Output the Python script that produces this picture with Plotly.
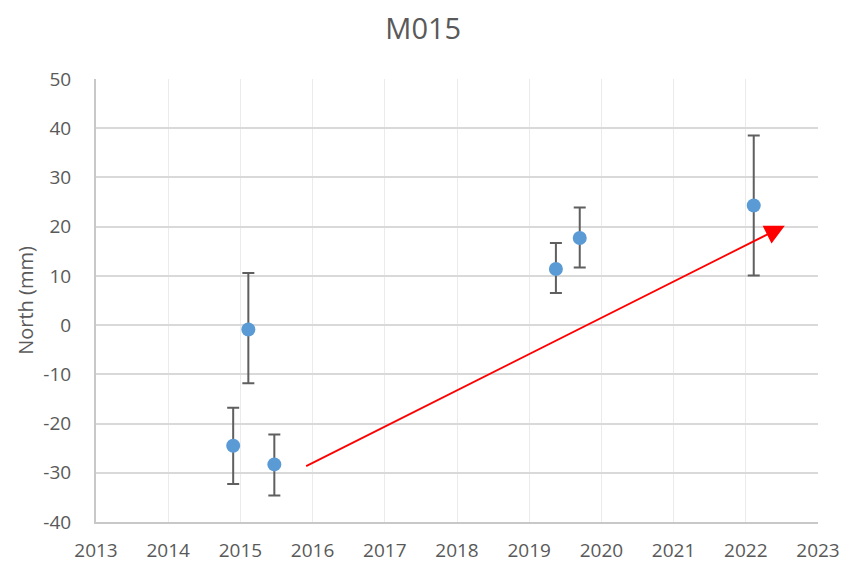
import plotly.graph_objects as go

# survey epochs (decimal year) and north offsets (mm)
years = [2014.90, 2015.11, 2015.47, 2019.37, 2019.70, 2022.11]
north = [-24.5, -0.9, -28.3, 11.4, 17.7, 24.3]
err_plus = [7.7, 11.5, 6.1, 5.3, 6.2, 14.2]
err_minus = [7.8, 10.9, 6.3, 4.9, 6.0, 14.2]

# trend arrow (start, end)
arrow_x = [2015.89, 2022.54]
arrow_y = [-28.8, 20.2]

x_ticks = list(range(2013, 2024))
y_ticks = list(range(-40, 51, 10))
y_labels = [str(v) for v in y_ticks]  # plain hyphen, like Excel

GRAY_TEXT = "#595959"
FONT = "Open Sans"

fig = go.Figure()

fig.add_trace(go.Scatter(
    x=years, y=north, mode="markers",
    marker=dict(color="#5B9BD5", size=14),
    error_y=dict(type="data", symmetric=False, array=err_plus,
                 arrayminus=err_minus, color="#5F5F5F",
                 thickness=2, width=6),
    showlegend=False,
))

fig.add_annotation(
    x=arrow_x[1], y=arrow_y[1], ax=arrow_x[0], ay=arrow_y[0],
    xref="x", yref="y", axref="x", ayref="y",
    showarrow=True, arrowhead=2, arrowsize=2.2, arrowwidth=1.8,
    arrowcolor="#FF0000", text="",
)

# page body has an 8px default margin, so the figure is sized to fit
fig.update_layout(
    width=844, height=558,
    paper_bgcolor="white", plot_bgcolor="white",
    margin=dict(l=88, r=34, t=71, b=44, autoexpand=False),
    title=dict(text="M015", x=0.492, xanchor="center", y=0.962,
               yanchor="middle",
               font=dict(family=FONT, size=29, color=GRAY_TEXT)),
    font=dict(family=FONT, color=GRAY_TEXT),
    xaxis=dict(
        range=[2013, 2023], tickvals=x_ticks,
        ticktext=[str(t) for t in x_ticks], automargin=False,
        showgrid=True, gridcolor="#EBEBEB", gridwidth=1,
        showline=True, linecolor="#C8C8C8", linewidth=2,
        zeroline=False, ticks="", ticklabelstandoff=10,
        tickfont=dict(family=FONT, size=19, color=GRAY_TEXT),
    ),
    yaxis=dict(
        range=[-40, 50], tickvals=y_ticks, ticktext=y_labels,
        automargin=False,
        showgrid=True, gridcolor="#D9D9D9", gridwidth=2,
        showline=True, linecolor="#C8C8C8", linewidth=2,
        zeroline=False, ticks="", ticklabelstandoff=19,
        tickfont=dict(family=FONT, size=19, color=GRAY_TEXT),
        title=dict(text="North (mm)", standoff=4,
                   font=dict(family=FONT, size=20, color=GRAY_TEXT)),
    ),
)

fig.write_html("out.html")
